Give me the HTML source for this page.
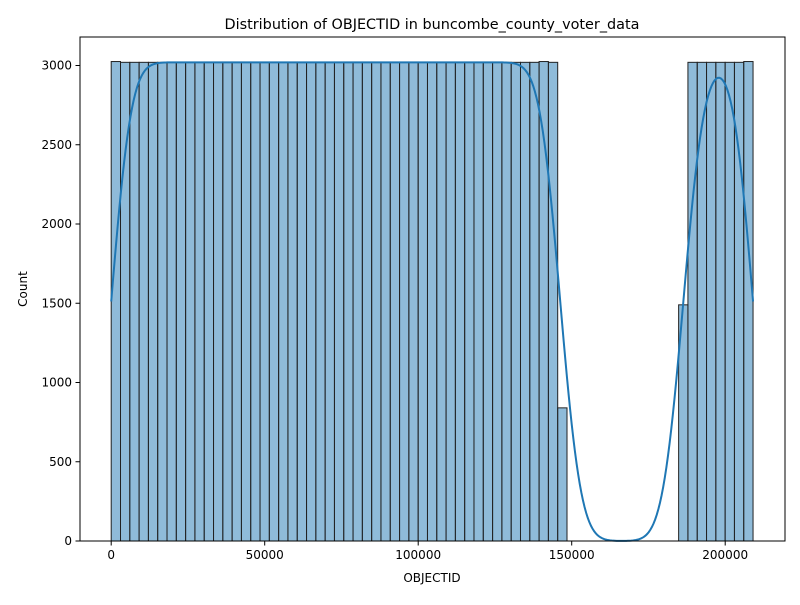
<!DOCTYPE html>
<html><head><meta charset="utf-8"><style>
body{margin:0;background:#fff;font-family:"Liberation Sans","DejaVu Sans",sans-serif}
svg text{font-family:"DejaVu Sans","Liberation Sans",sans-serif;fill:#000}
</style></head><body>
<svg id="c" width="800" height="600"></svg>
<script>
const binCounts=[3025,3020,3020,3020,3020,3020,3020,3020,3020,3020,3020,3020,3020,3020,3020,3020,3020,3020,3020,3020,3020,3020,3020,3020,3020,3020,3020,3020,3020,3020,3020,3020,3020,3020,3020,3020,3020,3020,3020,3020,3020,3020,3020,3020,3020,3020,3025,3020,840,0,0,0,0,0,0,0,0,0,0,0,0,1490,3020,3020,3020,3020,3020,3020,3025];
const binStart=0;
const binWidth=3030;
const xTicks=[0,50000,100000,150000,200000];
const yTicks=[0,500,1000,1500,2000,2500,3000];
const kdeBandwidth=5200;

const svg=document.getElementById('c');
const NS='http://www.w3.org/2000/svg';
const X0=111.2,PX=153.5/50000,Y0=541,PY=475.5/3000;
const xs=v=>X0+v*PX, ys=v=>Y0-v*PY;
function mk(t,a,p){const e=document.createElementNS(NS,t);for(const k in a)e.setAttribute(k,a[k]);(p||svg).appendChild(e);return e;}

const bars=mk('g',{});


binCounts.forEach((c,i)=>{
  if(c<=0)return;
  const x1=xs(binStart+i*binWidth),x2=xs(binStart+(i+1)*binWidth);
  const r=mk('rect',{x:x1,y:ys(c),width:x2-x1,height:ys(0)-ys(c),fill:'#1f77b4','fill-opacity':0.5,stroke:'#222','stroke-width':1},bars);
  
  
});

const N=binCounts.reduce((a,b)=>a+b,0);
const xmin=binStart,xmax=binStart+binCounts.length*binWidth;
let pts=[];
for(let k=0;k<=400;k++){
  const x=xmin+(xmax-xmin)*k/400;
  let s=0;
  binCounts.forEach((c,i)=>{
    for(let j=0;j<4;j++){
      const m=binStart+(i+(j+0.5)/4)*binWidth;
      const z=(x-m)/kdeBandwidth;
      s+=c/4*Math.exp(-0.5*z*z);
    }
  });
  const dens=s/(N*kdeBandwidth*Math.sqrt(2*Math.PI));
  pts.push(xs(x).toFixed(2)+','+ys(dens*N*binWidth).toFixed(2));
}
const kde=mk('polyline',{points:pts.join(' '),fill:'none',stroke:'#1f77b4','stroke-width':2});



const frame=mk('rect',{x:80,y:37,width:705,height:504,fill:'none',stroke:'#000','stroke-width':1});



xTicks.forEach(t=>{
  const x=xs(t);
  mk('line',{x1:x,x2:x,y1:541,y2:545.5,stroke:'#000'});
  const tx=mk('text',{x:x,y:559,'font-size':12,'text-anchor':'middle'});
  tx.textContent=t;
  
  
});
yTicks.forEach(t=>{
  const y=ys(t);
  mk('line',{x1:75.5,x2:80,y1:y,y2:y,stroke:'#000'});
  const tx=mk('text',{x:72,y:y+4,'font-size':12,'text-anchor':'end'});
  tx.textContent=t;
  
  
});
const xt=mk('text',{x:432,y:582,'font-size':12,'text-anchor':'middle'});xt.textContent='OBJECTID';


const yt=mk('text',{x:27,y:289,'font-size':12,'text-anchor':'middle',transform:'rotate(-90 27 289)'});yt.textContent='Count';


const ti=mk('text',{x:432,y:29,'font-size':14.4,'text-anchor':'middle'});ti.textContent='Distribution of OBJECTID in buncombe_county_voter_data';


</script>
</body></html>
